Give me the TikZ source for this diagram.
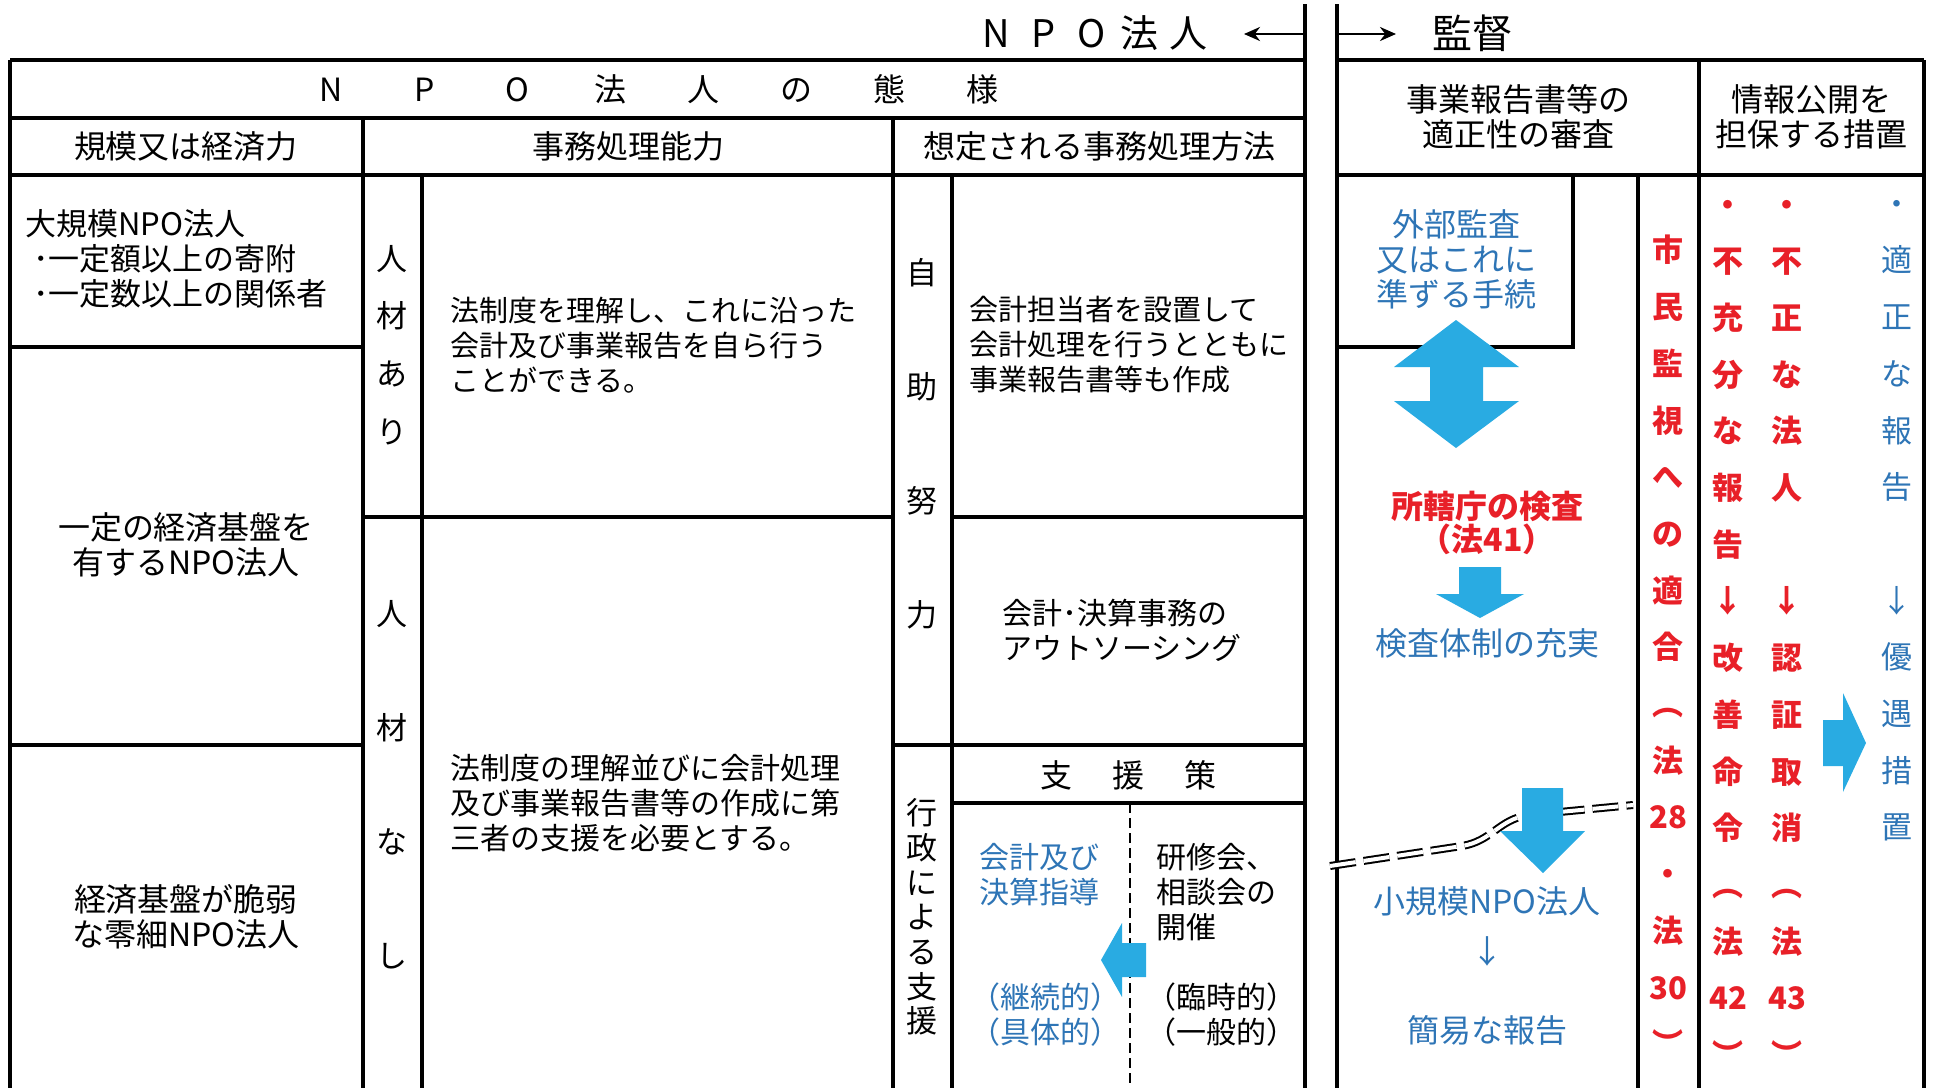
\documentclass[tikz,border=0pt]{standalone}
\usepackage{fontspec}
\setmainfont{Noto Sans CJK JP}
\usetikzlibrary{arrows.meta}
\definecolor{redtxt}{RGB}{232,32,40}
\definecolor{bluetxt}{RGB}{46,117,182}
\definecolor{arrowblue}{RGB}{41,171,226}
\newcommand\spaced[2]{\makebox[#1]{#2}}

\begin{document}
\begin{tikzpicture}[x=0.5pt,y=-0.5pt,
  rule/.style={line width=1.6pt},
  ctxt/.style={inner sep=0pt,align=center,font=\fontsize{16}{17.5}\selectfont},
  lefttxt/.style={inner sep=0pt,align=left,anchor=west,font=\fontsize{14.5}{17.5}\selectfont},
  vtxt/.style={inner sep=0pt,align=center,font=\fontsize{15.5}{#1}\selectfont},
  vbold/.style={inner sep=0pt,align=center,text=redtxt,font=\fontsize{15.5}{#1}\selectfont\bfseries},
  bluetext/.style={text=bluetxt},
  redbold/.style={text=redtxt,font=\fontsize{16}{16.5}\selectfont\bfseries},
  blockarrow/.style={fill=arrowblue}]
\useasboundingbox (0,0) rectangle (1935,1088);
\draw[rule] (10,60) -- (1305,60);
\draw[rule] (10,118) -- (1305,118);
\draw[rule] (10,175) -- (1305,175);
\draw[rule] (10,60) -- (10,1088);
\draw[rule] (1305,4) -- (1305,1088);
\draw[rule] (363,118) -- (363,1088);
\draw[rule] (422,175) -- (422,1088);
\draw[rule] (893,118) -- (893,1088);
\draw[rule] (952,175) -- (952,1088);
\draw[rule] (10,347) -- (363,347);
\draw[rule] (10,745) -- (363,745);
\draw[rule] (363,517) -- (893,517);
\draw[rule] (952,517) -- (1305,517);
\draw[rule] (893,745) -- (1305,745);
\draw[rule] (952,803) -- (1305,803);
\draw[line width=1.2pt,dash pattern=on 5pt off 2.5pt] (1130,803) -- (1130,1088);
\draw[rule] (1337,60) -- (1924,60);
\draw[rule] (1337,175) -- (1924,175);
\draw[rule] (1337,4) -- (1337,1088);
\draw[rule] (1924,60) -- (1924,1088);
\draw[rule] (1699,60) -- (1699,1088);
\draw[rule] (1638,175) -- (1638,1088);
\draw[rule] (1573,175) -- (1573,347) -- (1337,347);

\coordinate (lsplit) at (1305,34);
\coordinate (lend) at (1244,34);
\coordinate (rsplit) at (1337,34);
\coordinate (rend) at (1396,34);
\draw[line width=1.3pt,-{Stealth[length=8pt,width=7pt]}] (lsplit) -- (lend);
\draw[line width=1.3pt,-{Stealth[length=8pt,width=7pt]}] (rsplit) -- (rend);
\node[ctxt,font=\fontsize{19}{22}\selectfont] (npotitle) at (1092,33) {\spaced{24pt}{N}\spaced{24pt}{P}\spaced{24pt}{O}\spaced{24pt}{法}\spaced{24pt}{人}};
\node[ctxt,font=\fontsize{20}{24}\selectfont] (kantoku) at (1472,33) {監督};

\node[ctxt] (taiyou) at (657,89) {\spaced{46.5pt}{N}\spaced{46.5pt}{P}\spaced{46.5pt}{O}\spaced{46.5pt}{法}\spaced{46.5pt}{人}\spaced{46.5pt}{の}\spaced{46.5pt}{態}\spaced{46.5pt}{様}};
\node[ctxt] (kibo) at (186,146) {規模又は経済力};
\node[ctxt] (nouryoku) at (628,146) {事務処理能力};
\node[ctxt] (houhou) at (1099,146) {想定される事務処理方法};
\node[ctxt] (shinsa) at (1518,117) {事業報告書等の\\適正性の審査};
\node[ctxt] (kokai) at (1811,117) {情報公開を\\担保する措置};

\node[lefttxt,font=\fontsize{15.5}{17.5}\selectfont] (daikibo) at (25,259) {大規模NPO法人\\\hspace{4pt}･一定額以上の寄附\\\hspace{4pt}･一定数以上の関係者};
\node[ctxt] (ittei) at (186,545) {一定の経済基盤を\\有するNPO法人};
\node[ctxt] (reisai) at (186,917) {経済基盤が脆弱\\な零細NPO法人};

\node[vtxt=28.8pt] (jinzaiari) at (392,345) {人\\材\\あ\\り};
\node[vtxt=57pt] (jinzainashi) at (392,785) {人\\材\\な\\し};
\node[lefttxt] (jiriki) at (450,345) {法制度を理解し、これに沿った\\会計及び事業報告を自ら行う\\ことができる。};
\node[lefttxt,font=\fontsize{15}{17.5}\selectfont] (hitsuyou) at (450,803) {法制度の理解並びに会計処理\\及び事業報告書等の作成に第\\三者の支援を必要とする。};

\node[vtxt=57pt] (jijo) at (922,444) {自\\助\\努\\力};
\node[vtxt=17.35pt] (gyousei) at (922,917) {行\\政\\に\\よ\\る\\支\\援};
\node[lefttxt] (tantou) at (969,345) {会計担当者を設置して\\会計処理を行うとともに\\事業報告書等も作成};
\node[lefttxt,font=\fontsize{15}{17.5}\selectfont] (outsource) at (1002,630) {会計･決算事務の\\アウトソーシング};
\node[ctxt] (shiensaku) at (1128,775) {支\hspace{20pt}援\hspace{20pt}策};
\node[lefttxt,bluetext,font=\fontsize{15}{17.5}\selectfont] (shidou) at (979,875) {会計及び\\決算指導};
\node[lefttxt,bluetext,font=\fontsize{15}{17.5}\selectfont] (keizoku) at (970,1015) {（継続的）\\（具体的）};
\node[lefttxt,font=\fontsize{15}{17.5}\selectfont] (kenshu) at (1156,892) {研修会、\\相談会の\\開催};
\node[lefttxt,font=\fontsize{15}{17.5}\selectfont] (rinji) at (1146,1015) {（臨時的）\\（一般的）};
\fill[blockarrow] (1101,960) -- (1122,923) -- (1122,943) -- (1146,943) -- (1146,977) -- (1122,977) -- (1122,997) -- cycle;

\node[ctxt,bluetext] (gaibu) at (1456,259) {外部監査\\又はこれに\\準ずる手続};
\fill[blockarrow] (1456,320) -- (1519,367) -- (1483,367) -- (1483,401) -- (1519,401) -- (1456,448) -- (1394,401) -- (1430,401) -- (1430,367) -- (1394,367) -- cycle;
\node[ctxt,redbold] (shokatsu) at (1487,523) {所轄庁の検査\\（法41）};
\fill[blockarrow] (1459,567) -- (1501,567) -- (1501,594) -- (1524,594) -- (1480,618) -- (1436,594) -- (1459,594) -- cycle;
\node[ctxt,bluetext] (taisei) at (1487,643) {検査体制の充実};
\draw[line width=1pt,double distance=2pt,dash pattern=on 13pt off 4pt] (1330,866) -- (1462,846) .. controls (1492,841) and (1498,820) .. (1528,815) -- (1633,805);
\fill[blockarrow] (1522,788) -- (1563,788) -- (1563,831) -- (1585,831) -- (1543,873) -- (1500,831) -- (1522,831) -- cycle;
\node[ctxt,bluetext] (shokibo) at (1487,901) {小規模NPO法人};
\node[ctxt,bluetext] (yajirushi) at (1487,951) {↓};
\node[ctxt,bluetext] (kani) at (1487,1030) {簡易な報告};

\node[vbold=28.35pt] (shimin) at (1668,647) {市\\民\\監\\視\\へ\\の\\適\\合\\︵\\法\\28\\・\\法\\30\\\vphantom{国}︶};
\node[vbold=28.35pt] (fujubun) at (1728,630) {\vphantom{国}・\\不\\充\\分\\な\\報\\告\\↓\\改\\善\\命\\令\\︵\\法\\42\\\vphantom{国}︶};
\node[vbold=28.35pt] (fusei) at (1787,630) {\vphantom{国}・\\不\\正\\な\\法\\人\\\mbox{}\\↓\\認\\証\\取\\消\\︵\\法\\43\\\vphantom{国}︶};
\node[vtxt=28.35pt,bluetext] (tekisei) at (1897,516) {\vphantom{国}・\\適\\正\\な\\報\\告\\\mbox{}\\↓\\優\\遇\\措\\置};
\fill[blockarrow] (1823,720) -- (1843,720) -- (1843,693) -- (1866,743) -- (1843,792) -- (1843,766) -- (1823,766) -- cycle;
\end{tikzpicture}
\end{document}
